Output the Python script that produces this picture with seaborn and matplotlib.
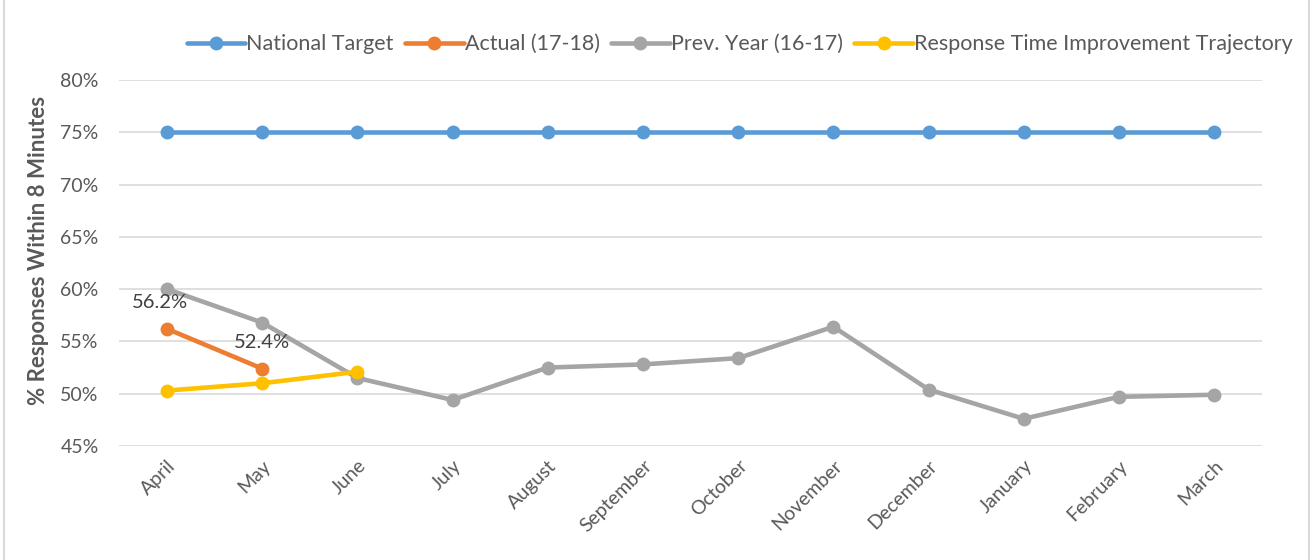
import numpy as np
import pandas as pd
import matplotlib
matplotlib.use("Agg")
import matplotlib.pyplot as plt
import seaborn as sns
from matplotlib.patches import Rectangle

months = ["April", "May", "June", "July", "August", "September", "October",
          "November", "December", "January", "February", "March"]
national_target = [75, 75, 75, 75, 75, 75, 75, 75, 75, 75, 75, 75]
actual_17_18 = [56.2, 52.4]
prev_year_16_17 = [60.0, 56.8, 51.5, 49.4, 52.5, 52.8, 53.4, 56.4, 50.4, 47.6, 49.7, 49.9]
trajectory = [50.3, 51.0, 52.1]

series_names = ["National Target", "Actual (17-18)", "Prev. Year (16-17)",
                "Response Time Improvement Trajectory"]
series_values = [national_target, actual_17_18, prev_year_16_17, trajectory]
colors = ["#5B9BD5", "#ED7D31", "#A5A5A5", "#FFC000"]

rows = []
for name, vals in zip(series_names, series_values):
    for i, v in enumerate(vals):
        rows.append({"series": name, "pos": i, "value": v})
df = pd.DataFrame(rows)

sns.set_theme(style="white")
plt.rcParams["font.family"] = ["Lato", "DejaVu Sans"]
text_color = "#595959"

fig = plt.figure(figsize=(13.14, 5.6), dpi=100)
ax = fig.add_axes([0.0909, 0.2036, 0.8693, 0.6536])

for name, col in zip(series_names, colors):
    sub = df[df["series"] == name]
    sns.lineplot(data=sub, x="pos", y="value", ax=ax, color=col, linewidth=3.3,
                 marker="o", markersize=10, markeredgewidth=0, label=name,
                 zorder=3)

# value labels on the current-year series
for i, v in enumerate(actual_17_18):
    ax.annotate(f"{v:.1f}%", (i, v), xytext=(-5 if i == 0 else 0, 19),
                textcoords="offset points", ha="center", va="center",
                fontsize=14.5, color="#404040", zorder=4)

ax.set_xlim(-0.5, len(months) - 0.5)
ax.set_ylim(45, 80)
ax.set_yticks(np.arange(45, 81, 5))
ax.set_yticklabels([f"{t}%" for t in range(45, 81, 5)])
ax.set_xticks(range(len(months)))
ax.set_xticklabels(months, rotation=45, ha="right", rotation_mode="anchor")
ax.tick_params(axis="both", colors=text_color, labelsize=14, length=0)
ax.tick_params(axis="x", pad=8)
ax.tick_params(axis="y", pad=15)
ax.grid(axis="y", color="#D9D9D9", linewidth=1.2)
ax.set_axisbelow(True)
for s in ax.spines.values():
    s.set_visible(False)

ax.set_xlabel("")
ax.set_ylabel("% Responses Within 8 Minutes", fontsize=16, fontweight="bold",
              color=text_color)
ax.yaxis.set_label_coords(-0.062, 0.535)

ax.legend(loc="center", bbox_to_anchor=(0.543, 1.098), ncol=4, frameon=False,
          fontsize=15.5, labelcolor=text_color, handlelength=2.7,
          handletextpad=0.05, columnspacing=0.55, borderaxespad=0.0)

fig.patches.append(Rectangle((0.003, -0.01), 0.993, 1.02, transform=fig.transFigure,
                             fill=False, edgecolor="#D9D9D9", linewidth=1.5))

fig.savefig("out.png", dpi=100)
